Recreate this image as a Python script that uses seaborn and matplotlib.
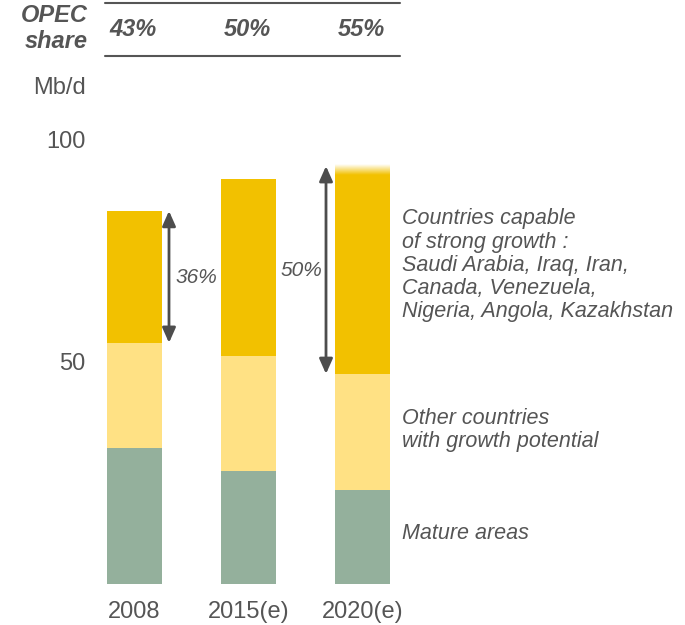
import numpy as np
import pandas as pd
import seaborn as sns
import matplotlib.pyplot as plt
from matplotlib.colors import LinearSegmentedColormap

sns.set_style('white')
plt.rcParams['font.family'] = ['Liberation Sans', 'DejaVu Sans']

# data (Mb/d)
years = ['2008', '2015(e)', '2020(e)']
mature = [30.6, 25.4, 21.1]
other_growth = [23.7, 26.0, 26.2]
strong_growth = [29.7, 39.8, 44.8]
opec_share = ['43%', '50%', '55%']
arrow_labels = ['36%', '50%']

c_dark = '#F2C100'
c_light = '#FFE184'
c_green = '#94B09C'
c_text = '#555555'

df = pd.DataFrame({'year': years, 'mature': mature,
                   'other': other_growth, 'strong': strong_growth})
df['lvl1'] = df['mature']
df['lvl2'] = df['lvl1'] + df['other']
df['lvl3'] = df['lvl2'] + df['strong']

fig = plt.figure(figsize=(6.85, 6.25), dpi=100)
# axes in pixel terms: bottom at y=584, x from 95 to 419.5
ax = fig.add_axes([95 / 685, 41 / 625, 324.5 / 685, 584 / 625])

bw = 0.48
bar_kw = dict(x='year', width=bw, ax=ax, saturation=1, linewidth=0, edgecolor='none')
sns.barplot(data=df, y='lvl3', color=c_dark, **bar_kw)
sns.barplot(data=df, y='lvl2', color=c_light, **bar_kw)
sns.barplot(data=df, y='lvl1', color=c_green, **bar_kw)

# faded top on the 2020 bar
fade = LinearSegmentedColormap.from_list('fade', ['white', c_dark])
grad = np.linspace(0, 1, 50).reshape(-1, 1)
top = df['lvl3'].iloc[2]
ax.imshow(grad, cmap=fade, aspect='auto', origin='upper',
          extent=(2 - bw / 2, 2 + bw / 2, top - 0.05, top + 2.3), zorder=3)

ax.set_xlim(-0.346, 2.5)
ax.set_ylim(0, 131.5)
sns.despine(ax=ax, left=True, bottom=True)
ax.set_yticks([50, 100])
ax.set_yticklabels(['50', '100'], fontsize=17, color=c_text)
ax.tick_params(axis='y', length=0, pad=7)
ax.tick_params(axis='x', length=0, pad=12, labelsize=17, labelcolor=c_text)
ax.set_xlabel('')
ax.set_ylabel('')

# header with OPEC share
for yy in [130.9, 118.9]:
    ax.plot([-0.26, 2.33], [yy, yy], color=c_text, lw=1.5, clip_on=False)
ax.text(-0.408, 125.1, 'OPEC\nshare', ha='right', va='center', fontsize=17,
        fontweight='bold', fontstyle='italic', color=c_text, linespacing=1.2)
for i, s in enumerate(opec_share):
    ax.text(i - 0.01, 124.8, s, ha='center', va='center', fontsize=17,
            fontweight='bold', fontstyle='italic', color=c_text)
ax.text(-0.43, 111.7, 'Mb/d', ha='right', va='center', fontsize=17, color=c_text)

# arrows showing share of strong-growth countries
arrow_kw = dict(arrowstyle='<|-|>,head_length=0.9,head_width=0.4',
                color='#4d4d4d', lw=2, shrinkA=0, shrinkB=0)
ax.annotate('', xy=(0.303, df['lvl3'][0]), xytext=(0.303, df['lvl2'][0]),
            arrowprops=arrow_kw)
ax.annotate('', xy=(1.68, 94.1), xytext=(1.68, df['lvl2'][2]),
            arrowprops=arrow_kw)
ax.text(0.36, 69.1, arrow_labels[0], ha='left', va='center', fontsize=15,
        fontstyle='italic', color=c_text)
ax.text(1.65, 70.5, arrow_labels[1], ha='right', va='center', fontsize=15,
        fontstyle='italic', color=c_text)

# segment labels
seg_kw = dict(ha='left', va='center', fontsize=15.5, fontstyle='italic',
              color=c_text, linespacing=1.13)
ax.text(2.346, 71.8, 'Countries capable\nof strong growth :\nSaudi Arabia, Iraq, Iran,\n'
        'Canada, Venezuela,\nNigeria, Angola, Kazakhstan', **seg_kw)
ax.text(2.346, 34.7, 'Other countries\nwith growth potential', **seg_kw)
ax.text(2.346, 11.3, 'Mature areas', **seg_kw)

plt.savefig('out.png', dpi=100)
